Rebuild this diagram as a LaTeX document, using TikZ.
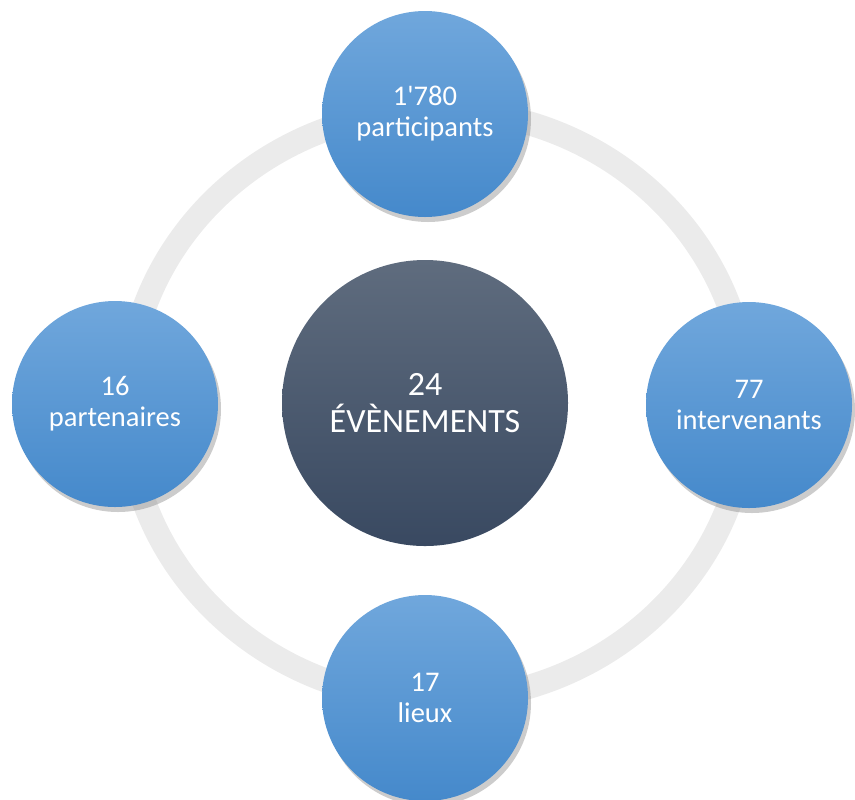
\documentclass[tikz,border=0pt]{standalone}
\usepackage{fontspec}
\setmainfont{Carlito}
\usepackage{tikz}
\usetikzlibrary{shadows}
\definecolor{ringgray}{HTML}{EBEBEB}
\definecolor{bluetop}{HTML}{70A7DC}
\definecolor{bluebot}{HTML}{4589CB}
\definecolor{hubtop}{HTML}{5F6C7E}
\definecolor{hubbot}{HTML}{394961}

\begin{document}
\begin{tikzpicture}[x=0.5pt, y=-0.5pt,
    item/.style={circle, inner sep=0pt, minimum size=103pt,
      top color=bluetop, bottom color=bluebot, text=white, align=center,
      font=\fontsize{14.25}{15.5}\selectfont,
      drop shadow={opacity=0.4, shadow xshift=1.5pt, shadow yshift=-2.5pt}},
    hub/.style={circle, inner sep=0pt, minimum size=143pt,
      top color=hubtop, bottom color=hubbot, text=white, align=center,
      font=\fontsize{17}{18.5}\selectfont}]
            \useasboundingbox (0,0) rectangle (855,799);
            \coordinate (O) at (437,405);
            \draw[ringgray, line width=12pt]
              (O) ellipse [x radius=310, y radius=295];
            \node[hub ](E) at (425,403) {24\\ÉVÈNEMENTS};
            \node[item](P) at (425,114) {1\textquotesingle 780\\participants};
            \node[item](L) at (115,404) {16\\partenaires};
            \node[item](I) at (749,405) {77\\intervenants};
            \node[item](V) at (425,698) {17\\lieux};
        \end{tikzpicture}
\end{document}
